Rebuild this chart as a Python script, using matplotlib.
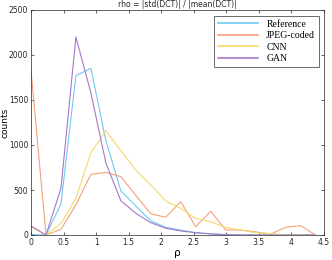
import matplotlib
matplotlib.use("Agg")
import matplotlib.pyplot as plt

rho = [0.0, 0.23, 0.46, 0.69, 0.92, 1.15, 1.38, 1.61, 1.84, 2.07,
       2.30, 2.53, 2.76, 2.99, 3.22, 3.45, 3.68, 3.91, 4.14, 4.37]

reference = [5, 0, 345, 1770, 1852, 1050, 490, 322, 158, 85,
             55, 25, 15, 3, 0, 0, 0, 0, 0, 0]
jpeg = [1830, 0, 63, 335, 674, 696, 648, 440, 236, 197,
        370, 92, 265, 55, 55, 35, 10, 85, 105, 0]
cnn = [90, 0, 130, 407, 914, 1160, 937, 722, 555, 378,
       296, 185, 148, 85, 55, 26, 15, 0, 0, 0]
gan = [100, 0, 518, 2200, 1578, 800, 381, 241, 137, 75,
       45, 25, 12, 3, 0, 0, 0, 0, 0, 0]

labels = ["Reference", "JPEG-coded", "CNN", "GAN"]
colors = ["#70C8F0", "#F7A07A", "#F5DA6A", "#A877C8"]

fig = plt.figure(figsize=(3.32, 2.60), dpi=100)
ax = fig.add_axes([31/332, 1 - 235/260, 293/332, 225/260])

for y, lab, c in zip([reference, jpeg, cnn, gan], labels, colors):
    ax.plot(rho, y, color=c, lw=0.8, label=lab)

ax.set_xlim(0, 4.5)
ax.set_ylim(0, 2500)
ax.set_xticks([0, 0.5, 1, 1.5, 2, 2.5, 3, 3.5, 4, 4.5])
ax.set_xticklabels(["0", "0.5", "1", "1.5", "2", "2.5", "3", "3.5", "4", "4.5"])
ax.set_yticks([0, 500, 1000, 1500, 2000, 2500])
ax.tick_params(direction="in", top=True, right=True, length=2.5, width=0.5,
               labelsize=5.5, colors="#262626", pad=2)
for s in ax.spines.values():
    s.set_linewidth(0.5)
    s.set_color("#262626")

ax.set_title("rho = |std(DCT)| / |mean(DCT)|", fontsize=5.5, pad=2, color="#262626")
ax.set_xlabel("ρ", fontsize=7.5, labelpad=1)
ax.set_ylabel("counts", fontsize=6.5)
ax.yaxis.set_label_coords(-0.072, 0.5)

leg = ax.legend(loc="upper right", bbox_to_anchor=(1 - 5/293, 1 - 6/225),
                prop={"family": "Liberation Serif", "size": 7},
                frameon=True, fancybox=False, edgecolor="#262626",
                handlelength=4.2, handletextpad=0.8, borderpad=0.4,
                labelspacing=0.25, borderaxespad=0)
leg.get_frame().set_linewidth(0.6)
for line in leg.get_lines():
    line.set_linewidth(1.2)

fig.savefig("out.png", dpi=100)
